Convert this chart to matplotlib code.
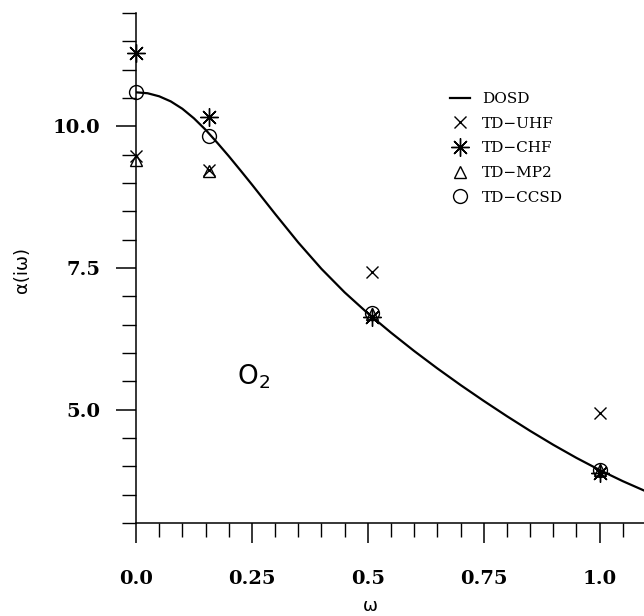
import numpy as np
import matplotlib
matplotlib.use("Agg")
import matplotlib.pyplot as plt
from matplotlib.ticker import FixedLocator, MultipleLocator

# DOSD curve
dosd_w = [0.0, 0.025, 0.05, 0.075, 0.1, 0.125, 0.15, 0.175, 0.2, 0.225, 0.25, 0.275,
          0.3, 0.35, 0.4, 0.45, 0.5, 0.55, 0.6, 0.65, 0.7, 0.75, 0.8, 0.85,
          0.9, 0.95, 1.0, 1.05, 1.1]
dosd_a = [10.600, 10.584, 10.530, 10.440, 10.310, 10.141, 9.940, 9.713, 9.475, 9.226,
          8.973, 8.714, 8.455, 7.950, 7.485, 7.070, 6.700, 6.359, 6.035, 5.728,
          5.435, 5.155, 4.885, 4.626, 4.380, 4.149, 3.935, 3.738, 3.558]

# computed points
omega = [0.0, 0.157, 0.51, 1.0]
td_uhf = [9.47, 9.23, 7.43, 4.94]
td_chf = [11.29, 10.16, 6.64, 3.89]
td_mp2 = [9.41, 9.22, 6.68, 3.93]
td_ccsd = [10.60, 9.83, 6.70, 3.93]

xticks = [0.0, 0.25, 0.5, 0.75, 1.0]
xticklabels = ["0.0", "0.25", "0.5", "0.75", "1.0"]
yticks = [5.0, 7.5, 10.0]
yticklabels = ["5.0", "7.5", "10.0"]

W, H = 644, 616
fig = plt.figure(figsize=(W / 100, H / 100), dpi=100)
ax = fig.add_axes([136 / W, 93 / H, 510 / W, 510 / H])

ax.plot(dosd_w, dosd_a, color="black", lw=1.6, label="DOSD", zorder=3)
ax.plot(omega, td_uhf, ls="none", marker="x", ms=8, mew=1.0, color="black",
        label="TD\u2212UHF", clip_on=False, zorder=4)
ax.plot(omega, td_chf, ls="none", marker=(8, 2, 0), ms=13, mew=1.0, color="black",
        label="TD\u2212CHF", clip_on=False, zorder=4)
ax.plot(omega, td_mp2, ls="none", marker="^", ms=9, mew=1.0, color="black",
        mfc="none", label="TD\u2212MP2", clip_on=False, zorder=4)
ax.plot(omega, td_ccsd, ls="none", marker="o", ms=10, mew=1.0, color="black",
        mfc="none", label="TD\u2212CCSD", clip_on=False, zorder=4)

ax.set_xlim(0.0, 1.1)
ax.set_ylim(3.0, 12.0)

for s in ["top", "right"]:
    ax.spines[s].set_visible(False)
for s in ["left", "bottom"]:
    ax.spines[s].set_linewidth(1.1)

ax.xaxis.set_major_locator(FixedLocator(xticks))
ax.set_xticklabels(xticklabels)
ax.xaxis.set_minor_locator(MultipleLocator(0.05))
ax.yaxis.set_major_locator(FixedLocator(yticks))
ax.set_yticklabels(yticklabels)
ax.yaxis.set_minor_locator(MultipleLocator(0.5))

ax.tick_params(which="major", direction="out", length=14.5, width=1.1)
ax.tick_params(which="minor", direction="out", length=10, width=1.0)
ax.tick_params(axis="x", which="major", pad=19)
ax.tick_params(axis="y", which="major", pad=11)
for lab in ax.get_xticklabels() + ax.get_yticklabels():
    lab.set_fontfamily("DejaVu Serif")
    lab.set_fontweight("bold")
    lab.set_fontsize(14)

fig.text(22 / W, 1 - 270 / H, "\u03b1(i\u03c9)", rotation=90, ha="center", va="center",
         fontsize=13, family="DejaVu Sans")
fig.text(370 / W, 1 - 606 / H, "\u03c9", ha="center", va="center",
         fontsize=13, family="DejaVu Sans")

ax.text(0.218, 5.44, r"$\mathrm{O}_2$", fontsize=19, ha="left", va="baseline")

leg = ax.legend(loc="upper left", bbox_to_anchor=(450 / W, 1 - 92 / H),
                bbox_transform=fig.transFigure, frameon=False,
                prop={"family": "DejaVu Serif", "size": 11},
                handlelength=1.3, handletextpad=0.8, labelspacing=0.7,
                borderaxespad=0, borderpad=0)

fig.savefig("out.png", dpi=100)
